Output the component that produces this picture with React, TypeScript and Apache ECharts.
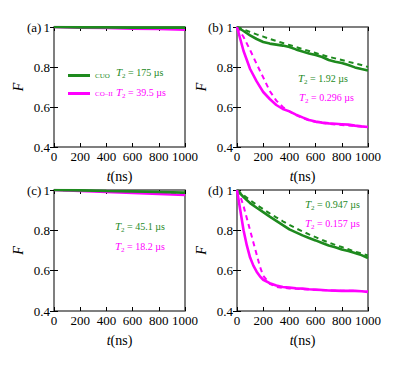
import React, { useEffect, useRef } from "react";
import * as echarts from "echarts";

const GREEN = "#1e8a1e";
const MAGENTA = "#ff00ff";
const FONT = "'Liberation Serif', 'Times New Roman', serif";

const xTicks = [0, 200, 400, 600, 800, 1000];
const yTicks = [0.4, 0.6, 0.8, 1];

// panel (a)
const tA = [0, 200, 400, 600, 800, 1000];
const aCuo = [1, 0.998, 0.998, 0.997, 0.997, 0.997];
const aCo = [1, 0.997, 0.995, 0.992, 0.99, 0.987];

// panel (c)
const tC = [0, 200, 400, 600, 800, 1000];
const cCuo = [1, 0.998, 0.995, 0.993, 0.99, 0.987];
const cCuoFit = [1, 0.997, 0.994, 0.991, 0.988, 0.985];
const cCo = [1, 0.995, 0.99, 0.985, 0.98, 0.975];

// panel (b)
const tB = [0, 50, 100, 150, 200, 250, 300, 350, 400, 450, 500, 550, 600, 650, 700, 750, 800, 850, 900, 950, 1000];
const bCuo = [1, 0.98, 0.958, 0.94, 0.925, 0.917, 0.912, 0.907, 0.9, 0.888, 0.877, 0.868, 0.86, 0.85, 0.835, 0.826, 0.82, 0.81, 0.798, 0.79, 0.783];
const bCuoFit = [1, 0.988, 0.975, 0.963, 0.952, 0.94, 0.93, 0.92, 0.91, 0.9, 0.89, 0.88, 0.87, 0.86, 0.851, 0.843, 0.835, 0.826, 0.818, 0.81, 0.8];
const bCo = [1, 0.88, 0.79, 0.728, 0.675, 0.64, 0.61, 0.59, 0.578, 0.562, 0.548, 0.535, 0.527, 0.522, 0.518, 0.516, 0.514, 0.512, 0.507, 0.503, 0.5];
const bCoFit = [1, 0.95, 0.885, 0.815, 0.748, 0.68, 0.632, 0.6, 0.578, 0.56, 0.545, 0.533, 0.525, 0.52, 0.516, 0.513, 0.51, 0.508, 0.505, 0.502, 0.5];

// panel (d)
const tD = [0, 50, 100, 150, 200, 250, 300, 350, 400, 450, 500, 550, 600, 650, 700, 750, 800, 850, 900, 950, 1000];
const dCuo = [1, 0.965, 0.935, 0.912, 0.89, 0.868, 0.847, 0.826, 0.805, 0.79, 0.775, 0.762, 0.75, 0.737, 0.725, 0.716, 0.705, 0.697, 0.688, 0.677, 0.663];
const dCuoFit = [1, 0.974, 0.95, 0.926, 0.905, 0.884, 0.864, 0.845, 0.827, 0.81, 0.795, 0.78, 0.766, 0.752, 0.74, 0.728, 0.717, 0.706, 0.695, 0.685, 0.675];
const tD2 = [0, 25, 50, 75, 100, 125, 150, 175, 200, 250, 300, 350, 400, 450, 500, 550, 600, 650, 700, 750, 800, 850, 900, 950, 1000];
const dCo = [1, 0.9, 0.8, 0.725, 0.665, 0.625, 0.595, 0.572, 0.555, 0.538, 0.526, 0.519, 0.516, 0.513, 0.511, 0.508, 0.506, 0.504, 0.502, 0.501, 0.5, 0.5, 0.5, 0.498, 0.495];
const dCoFit = [1, 0.97, 0.92, 0.86, 0.8, 0.74, 0.68, 0.62, 0.575, 0.535, 0.52, 0.515, 0.512, 0.51, 0.508, 0.506, 0.504, 0.503, 0.502, 0.501, 0.5, 0.5, 0.5, 0.499, 0.498];

const panelLabels = ["(a)", "(b)", "(c)", "(d)"];
const t2Labels = [
  ["175 µs", "39.5 µs"],
  ["1.92 µs", "0.296 µs"],
  ["45.1 µs", "18.2 µs"],
  ["0.947 µs", "0.157 µs"],
];

const grids = [
  { left: 54, top: 27, width: 131, height: 120 },
  { left: 237, top: 27, width: 131, height: 120 },
  { left: 54, top: 190, width: 131, height: 121 },
  { left: 237, top: 190, width: 131, height: 121 },
];

const zip = (t: number[], v: number[]) => t.map((x, i) => [x, v[i]]);

export default function App() {
  const ref = useRef<HTMLDivElement>(null);
  useEffect(() => {
    if (!ref.current) return;
    const chart = echarts.init(ref.current, undefined, { renderer: "svg" });

    const xAxes: any[] = [];
    const yAxes: any[] = [];
    grids.forEach((_, i) => {
      xAxes.push({
        type: "value",
        gridIndex: i,
        min: xTicks[0],
        max: xTicks[xTicks.length - 1],
        interval: 200,
        position: "bottom",
        name: "{i|t}{n|(ns)}",
        nameLocation: "middle",
        nameGap: 22,
        nameTextStyle: {
          rich: {
            i: { fontFamily: FONT, fontStyle: "italic", fontSize: 14, color: "#000" },
            n: { fontFamily: FONT, fontSize: 14, color: "#000" },
          },
        },
        axisLine: { show: false },
        axisTick: { inside: true, length: 4, lineStyle: { color: "#000", width: 1 } },
        splitLine: { show: false },
        axisLabel: {
          fontFamily: FONT,
          fontSize: 13,
          color: "#000",
          margin: 3,
          formatter: (v: number) => String(v),
        },
      });
      xAxes.push({
        type: "value",
        gridIndex: i,
        min: xTicks[0],
        max: xTicks[xTicks.length - 1],
        interval: 200,
        position: "top",
        axisLine: { show: false },
        axisTick: { inside: true, length: 4, lineStyle: { color: "#000", width: 1 } },
        splitLine: { show: false },
        axisLabel: { show: false },
      });
      yAxes.push({
        type: "value",
        gridIndex: i,
        min: yTicks[0],
        max: yTicks[yTicks.length - 1],
        interval: 0.2,
        position: "left",
        name: "F",
        nameLocation: "middle",
        nameGap: 29,
        nameRotate: 90,
        nameTextStyle: { fontFamily: FONT, fontStyle: "italic", fontSize: 14, color: "#000" },
        axisLine: { show: false },
        axisTick: { inside: true, length: 4, lineStyle: { color: "#000", width: 1 } },
        splitLine: { show: false },
        axisLabel: {
          fontFamily: FONT,
          fontSize: 13,
          color: "#000",
          margin: 4,
          formatter: (v: number) => (Math.abs(v - 1) < 1e-9 ? "1" : v.toFixed(1)),
        },
      });
      yAxes.push({
        type: "value",
        gridIndex: i,
        min: yTicks[0],
        max: yTicks[yTicks.length - 1],
        interval: 0.2,
        position: "right",
        axisLine: { show: false },
        axisTick: { inside: true, length: 4, lineStyle: { color: "#000", width: 1 } },
        splitLine: { show: false },
        axisLabel: { show: false },
      });
    });

    const line = (name: string, panel: number, data: number[][], color: string, dashed = false) => ({
      type: "line",
      name,
      xAxisIndex: panel * 2,
      yAxisIndex: panel * 2,
      data,
      symbol: "none",
      smooth: false,
      lineStyle: { color, width: dashed ? 2 : 2.6, type: dashed ? [5, 4] : "solid" },
      itemStyle: { color },
      z: dashed ? 3 : 4,
    });

    const series = [
      line("CO–II", 0, zip(tA, aCo), MAGENTA),
      line("CUO", 0, zip(tA, aCuo), GREEN),
      line("CUO fit b", 1, zip(tB, bCuoFit), GREEN, true),
      line("CUO b", 1, zip(tB, bCuo), GREEN),
      line("CO fit b", 1, zip(tB, bCoFit), MAGENTA, true),
      line("CO b", 1, zip(tB, bCo), MAGENTA),
      line("CO c", 2, zip(tC, cCo), MAGENTA),
      line("CUO fit c", 2, zip(tC, cCuoFit), GREEN, true),
      line("CUO c", 2, zip(tC, cCuo), GREEN),
      line("CUO fit d", 3, zip(tD, dCuoFit), GREEN, true),
      line("CUO d", 3, zip(tD, dCuo), GREEN),
      line("CO fit d", 3, zip(tD2, dCoFit), MAGENTA, true),
      line("CO d", 3, zip(tD2, dCo), MAGENTA),
    ];

    const t2Text = (val: string, color: string, x: number, y: number) => ({
      type: "text",
      x,
      y,
      z: 10,
      style: {
        text: "{i|T}{s|2}{n| = " + val + "}",
        fill: color,
        verticalAlign: "middle",
        rich: {
          i: { fontFamily: FONT, fontStyle: "italic", fontSize: 11, fill: color },
          s: { fontFamily: FONT, fontSize: 7, fill: color, padding: [7, 0, 0, 0] },
          n: { fontFamily: FONT, fontSize: 10, fill: color },
        },
      },
    });

    const labelPos = [
      [27, 27],
      [208, 27],
      [27, 190],
      [208, 190],
    ];
    const t2Pos = [
      [[116, 72], [116, 92]],
      [[298, 78], [299, 97]],
      [[115, 226], [115, 246]],
      [[305, 204], [305, 223]],
    ];

    const graphic: any[] = [];
    panelLabels.forEach((lab, i) => {
      graphic.push({
        type: "text",
        x: labelPos[i][0],
        y: labelPos[i][1],
        style: { text: lab, fontFamily: FONT, fontSize: 13, fill: "#000", verticalAlign: "middle" },
      });
      graphic.push(t2Text(t2Labels[i][0], GREEN, t2Pos[i][0][0], t2Pos[i][0][1]));
      graphic.push(t2Text(t2Labels[i][1], MAGENTA, t2Pos[i][1][0], t2Pos[i][1][1]));
    });

    chart.setOption({
      animation: false,
      backgroundColor: "#fff",
      grid: grids.map((g) => ({
        ...g,
        show: true,
        borderColor: "#555",
        borderWidth: 1.5,
        backgroundColor: "transparent",
      })),
      xAxis: xAxes,
      yAxis: yAxes,
      legend: {
        data: [
          { name: "CUO", icon: "rect", textStyle: { color: GREEN } },
          { name: "CO–II", icon: "rect", textStyle: { color: MAGENTA } },
        ],
        orient: "vertical",
        left: 63,
        top: 67,
        itemWidth: 22,
        itemHeight: 3,
        itemGap: 11,
        itemSpacing: 4,
        selectedMode: false,
        textStyle: { fontFamily: FONT, fontSize: 7 },
      },
      series,
      graphic,
    });
    return () => chart.dispose();
  }, []);

  return (
    <div
      ref={ref}
      style={{ position: "fixed", left: 0, top: 0, width: 415, height: 379, background: "#fff" }}
    />
  );
}
